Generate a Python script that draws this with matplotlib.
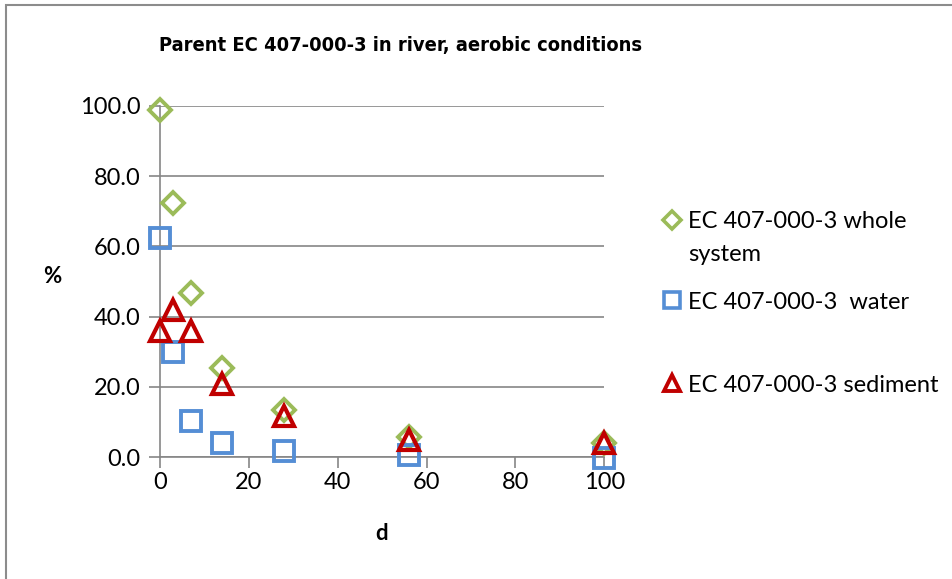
import matplotlib
matplotlib.use("Agg")
import matplotlib.pyplot as plt
from matplotlib.lines import Line2D
from matplotlib.patches import Rectangle

plt.rcParams['font.family'] = ['Lato', 'DejaVu Sans']

# days after start
days = [0, 3, 7, 14, 28, 56, 100]
# % of applied parent
whole_system = [98.9, 72.3, 46.6, 25.3, 13.3, 5.8, 3.9]
water = [62.3, 29.9, 10.3, 3.9, 1.7, 0.5, -0.2]
sediment = [36.0, 42.0, 35.9, 20.9, 11.6, 4.9, 4.0]

x_ticks = [0, 20, 40, 60, 80, 100]
y_ticks = [0, 20, 40, 60, 80, 100]

green = '#9BBB59'
blue = '#558ED5'
red = '#C00000'
grey = '#868686'

fig = plt.figure(figsize=(9.53, 5.79), dpi=100)
ax = fig.add_axes([0.168, 0.2107, 0.466, 0.6063])

# chart border (only top / left visible in the picture)
fig.patches.append(Rectangle((6 / 953, -0.1), 1.5, 1 - 5 / 579 + 0.1,
                             transform=fig.transFigure, fill=False,
                             edgecolor='#8c8c8c', linewidth=1.5))

ms = 14
ax.plot(days, whole_system, linestyle='none', marker='D', markersize=ms * 0.78,
        markerfacecolor='none', markeredgecolor=green, markeredgewidth=2.8,
        clip_on=False, zorder=3)
ax.plot(days, water, linestyle='none', marker='s', markersize=ms,
        markerfacecolor='none', markeredgecolor=blue, markeredgewidth=2.8,
        clip_on=False, zorder=3)
ax.plot(days, sediment, linestyle='none', marker='^', markersize=ms * 1.05,
        markerfacecolor='none', markeredgecolor=red, markeredgewidth=3.0,
        clip_on=False, zorder=4)

ax.set_xlim(0, 100)
ax.set_ylim(0, 100)
ax.set_xticks(x_ticks)
ax.set_yticks(y_ticks)
ax.set_yticklabels(['%.1f' % v for v in y_ticks])
ax.tick_params(axis='both', labelsize=17, colors=grey, labelcolor='black',
               length=8, width=1.2, direction='out')
ax.tick_params(axis='x', pad=3)
ax.tick_params(axis='y', pad=6)

ax.grid(axis='y', color=grey, linewidth=1.2)
ax.set_axisbelow(True)
for s in ['top', 'right']:
    ax.spines[s].set_visible(False)
for s in ['left', 'bottom']:
    ax.spines[s].set_color(grey)
    ax.spines[s].set_linewidth(1.2)

fig.text(0.42, 0.922, 'Parent EC 407-000-3 in river, aerobic conditions',
         ha='center', va='center', fontsize=14.4, fontweight='bold',
         family='DejaVu Sans', fontstretch='condensed')
fig.text(0.0546, 0.523, '%', ha='center', va='center', fontsize=16,
         fontweight='bold')
fig.text(0.40, 0.0794, 'd', ha='center', va='center', fontsize=16,
         fontweight='bold')

# legend entries, spaced like the original
entries = [
    (Line2D([], [], linestyle='none', marker='D', markersize=9,
            markerfacecolor='none', markeredgecolor=green, markeredgewidth=2.6),
     'EC 407-000-3 whole', 0.6166),
    (Line2D([], [], linestyle='none', marker='s', markersize=11,
            markerfacecolor='none', markeredgecolor=blue, markeredgewidth=2.6),
     'EC 407-000-3  water', 0.4784),
    (Line2D([], [], linestyle='none', marker='^', markersize=12,
            markerfacecolor='none', markeredgecolor=red, markeredgewidth=2.8),
     'EC 407-000-3 sediment', 0.335),
]
for h, lab, yy in entries:
    fig.legend([h], [lab], loc='center left', bbox_to_anchor=(0.695, yy),
               bbox_transform=fig.transFigure, frameon=False, fontsize=17,
               borderpad=0, borderaxespad=0, handlelength=0.8,
               handletextpad=0.3)
fig.text(0.7225, 0.5613, 'system', ha='left', va='center', fontsize=17)

fig.savefig('out.png', dpi=100)
